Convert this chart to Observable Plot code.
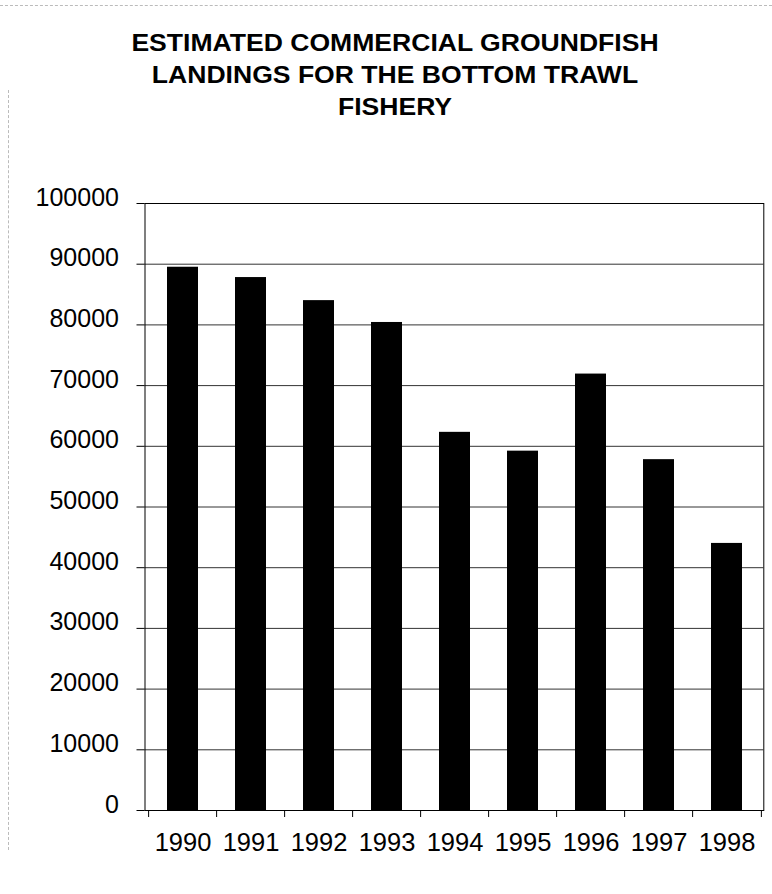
<!DOCTYPE html>
<html>
<head>
<meta charset="utf-8">
<script src="https://cdn.jsdelivr.net/npm/d3@7"></script>
<script src="https://cdn.jsdelivr.net/npm/@observablehq/plot@0.6"></script>
<style>
  html, body { margin: 0; padding: 0; background: #fff; }
  body { width: 772px; height: 894px; overflow: hidden; position: relative; font-family: "Liberation Sans", Arial, sans-serif; }
  #title { position: absolute; left: -5px; width: 800px; top: 26.5px; text-align: center; font-weight: bold; font-size: 23.5px; line-height: 32px; color: #000; transform: scaleX(1.13); transform-origin: center; }
  #chart { position: absolute; left: 0; top: 150px; }
  #edgeTop { position: absolute; left: 0; top: 5px; width: 772px; border-top: 1px dashed #bbb; }
  #edgeLeft { position: absolute; left: 8px; top: 90px; height: 760px; border-left: 1px dashed #bbb; }
</style>
</head>
<body>
<div id="title">ESTIMATED COMMERCIAL GROUNDFISH<br>LANDINGS FOR THE BOTTOM TRAWL<br>FISHERY</div>
<div id="chart"></div>
<div id="edgeTop"></div>
<div id="edgeLeft"></div>
<script>
const years = ["1990", "1991", "1992", "1993", "1994", "1995", "1996", "1997", "1998"];
const landings = [89500, 87800, 84000, 80400, 62300, 59200, 71900, 57800, 44000];
const yTicks = [0, 10000, 20000, 30000, 40000, 50000, 60000, 70000, 80000, 90000, 100000];

const data = years.map((year, i) => ({year, value: landings[i]}));

const W = 772, H = 744, mL = 144.5, mR = 8.7;
const step = (W - mL - mR) / years.length;

const chart = Plot.plot({
  width: W,
  height: H,
  marginTop: 53,
  marginBottom: 84,
  marginLeft: mL,
  marginRight: mR,
  style: {fontFamily: "'Liberation Sans', Arial, sans-serif", fontSize: "25px", color: "#000", background: "transparent", overflow: "visible"},
  x: {domain: years, paddingInner: 0.55, paddingOuter: 0.275, align: 0.5, label: null},
  y: {domain: [0, 100000], label: null},
  marks: [
    Plot.gridY(yTicks, {stroke: "#333", strokeOpacity: 1, strokeWidth: 1}),
    Plot.barY(data, {x: "year", y: "value", fill: "#000"}),
    Plot.frame({stroke: "#000", strokeWidth: 1}),
    Plot.axisY(yTicks, {tickSize: 8, tickFormat: () => "", label: null, stroke: "#000"}),
    Plot.axisY(yTicks, {tickSize: 0, tickPadding: 26, dy: -6, tickFormat: d => String(d), label: null, fontSize: 25, fill: "#000"}),
    Plot.axisX(years, {tickSize: 7, dx: -step / 2, tickFormat: () => "", label: null, stroke: "#000"}),
    Plot.axisX([years[years.length - 1]], {tickSize: 7, dx: step / 2, tickFormat: () => "", label: null, stroke: "#000"}),
    Plot.axisX(years, {tickSize: 0, tickPadding: 22, label: null, fontSize: 25.5, fill: "#000"})
  ]
});
document.getElementById("chart").appendChild(chart);
</script>
</body>
</html>
